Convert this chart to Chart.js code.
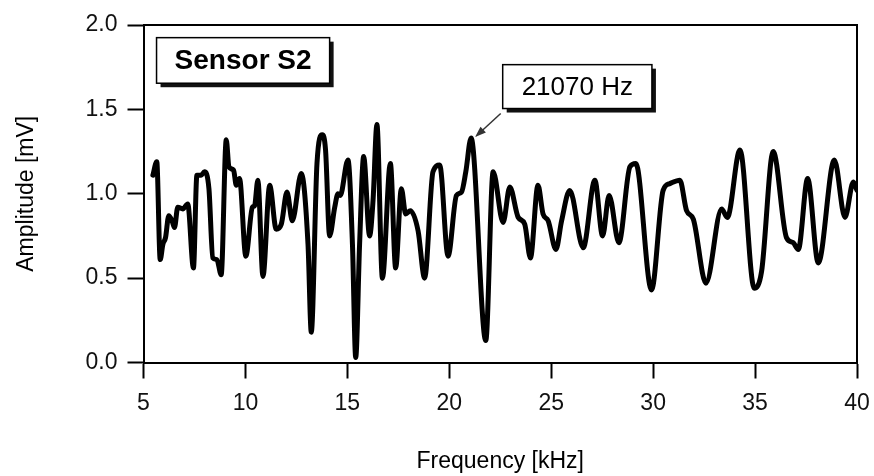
<!DOCTYPE html>
<html>
<head>
<meta charset="utf-8">
<script src="https://cdn.jsdelivr.net/npm/chart.js@4/dist/chart.umd.min.js"></script>
<style>
  html, body { margin: 0; padding: 0; background: #fff; }
  #wrap { width: 874px; height: 476px; position: relative; }
</style>
</head>
<body>
<div id="wrap"><canvas id="c"></canvas></div>
<script>
// Frequency axis (kHz) and measured amplitude (mV) of sensor S2
const frequency = [
  5.46, 5.65, 5.82, 5.95, 6.08, 6.24, 6.40, 6.52, 6.68, 6.93, 7.17, 7.45, 7.62, 7.83, 7.99,
  8.21, 8.40, 8.60, 8.81, 9.06, 9.19, 9.42, 9.55, 9.71, 10.02, 10.34, 10.45, 10.61, 10.86,
  11.19, 11.51, 11.76, 12.04, 12.30, 12.74, 13.07, 13.23, 13.51, 13.77, 13.93, 14.13, 14.38,
  14.54, 14.65, 15.03, 15.25, 15.41, 15.60, 15.80, 16.09, 16.26, 16.45, 16.72, 17.11, 17.37,
  17.65, 17.86, 18.09, 18.47, 18.79, 19.20, 19.53, 19.94, 20.35, 20.60, 20.81, 21.07, 21.79,
  22.15, 22.64, 22.97, 23.38, 23.70, 23.98, 24.35, 24.60, 24.85, 25.23, 25.51, 25.91, 26.57,
  27.14, 27.52, 27.84, 28.32, 28.86, 29.15, 29.92, 30.49, 30.82, 31.31, 31.64, 31.97, 32.59,
  33.36, 33.64, 34.26, 34.96, 35.32, 35.89, 36.54, 36.87, 37.12, 37.58, 38.10, 38.89, 39.41,
  39.82, 40.00
];
const amplitude = [
  1.11, 1.19, 0.61, 0.70, 0.74, 0.87, 0.84, 0.80, 0.92, 0.91, 0.94, 0.56, 1.11, 1.11, 1.13,
  1.03, 0.62, 0.61, 0.52, 1.32, 1.16, 1.14, 1.05, 1.09, 0.63, 0.92, 0.93, 1.08, 0.51,
  1.05, 0.79, 0.82, 1.01, 0.84, 1.12, 0.70, 0.18, 1.18, 1.35, 1.26, 0.75, 0.92,
  1.00, 0.99, 1.20, 0.70, 0.03, 0.70, 1.22, 0.75, 0.96, 1.41, 0.50, 1.18, 0.56,
  1.03, 0.88, 0.90, 0.78, 0.50, 1.13, 1.17, 0.63, 0.99, 1.01, 1.13, 1.33, 0.13,
  1.13, 0.83, 1.04, 0.86, 0.82, 0.62, 1.05, 0.88, 0.84, 0.67, 0.84, 1.02, 0.68,
  1.08, 0.75, 0.99, 0.71, 1.16, 1.18, 0.43, 1.02, 1.06, 1.08, 0.90, 0.85, 0.47,
  0.91, 0.86, 1.26, 0.44, 0.54, 1.25, 0.74, 0.71, 0.67, 1.09, 0.59, 1.20, 0.86,
  1.07, 1.02
];
const xTicks = [5, 10, 15, 20, 25, 30, 35, 40];
const yTicks = [0.0, 0.5, 1.0, 1.5, 2.0];

const sensorName = 'Sensor S2';
const peakFreqHz = 21070;
const peakAmp = 1.33;

const FONT = '"Liberation Sans", Arial, Helvetica, sans-serif';

// Frame on the top and right sides, plus the two labelled boxes
const decorations = {
  id: 'decorations',
  afterDraw(chart) {
    const { ctx, chartArea: a, scales: { x, y } } = chart;
    ctx.save();
    ctx.strokeStyle = '#000';
    ctx.lineWidth = 2;
    ctx.beginPath();
    ctx.moveTo(a.left, a.top);
    ctx.lineTo(a.right, a.top);
    ctx.lineTo(a.right, a.bottom);
    ctx.stroke();

    function box(x0, y0, x1, y1, text, font) {
      const l = x.getPixelForValue(x0), r = x.getPixelForValue(x1);
      const t = y.getPixelForValue(y0), b = y.getPixelForValue(y1);
      ctx.fillStyle = '#111';
      ctx.fillRect(l + 4, t + 4, r - l, b - t);
      ctx.fillStyle = '#fff';
      ctx.fillRect(l, t, r - l, b - t);
      ctx.strokeStyle = '#000';
      ctx.lineWidth = 1.5;
      ctx.strokeRect(l, t, r - l, b - t);
      ctx.fillStyle = '#000';
      ctx.font = font;
      ctx.textAlign = 'center';
      ctx.textBaseline = 'middle';
      ctx.fillText(text, (l + r) / 2, (t + b) / 2 + 1);
      return { l, r, t, b };
    }

    box(5.64, 1.925, 14.13, 1.655, sensorName, 'bold 28px ' + FONT);
    const pb = box(22.62, 1.765, 29.94, 1.505, peakFreqHz + ' Hz', '26px ' + FONT);

    // arrow from the box corner to the peak
    const tipX = x.getPixelForValue(peakFreqHz / 1000) + 4;
    const tipY = y.getPixelForValue(peakAmp) - 1;
    const sx = pb.l - 2, sy = pb.b + 5;
    const ang = Math.atan2(tipY - sy, tipX - sx);
    ctx.strokeStyle = '#333';
    ctx.fillStyle = '#333';
    ctx.lineWidth = 1.5;
    ctx.beginPath();
    ctx.moveTo(sx, sy);
    ctx.lineTo(tipX - 6 * Math.cos(ang), tipY - 6 * Math.sin(ang));
    ctx.stroke();
    ctx.beginPath();
    ctx.moveTo(tipX, tipY);
    ctx.lineTo(tipX - 11 * Math.cos(ang) + 4 * Math.sin(ang), tipY - 11 * Math.sin(ang) - 4 * Math.cos(ang));
    ctx.lineTo(tipX - 11 * Math.cos(ang) - 4 * Math.sin(ang), tipY - 11 * Math.sin(ang) + 4 * Math.cos(ang));
    ctx.closePath();
    ctx.fill();
    ctx.restore();
  }
};

const points = frequency.map((f, i) => ({ x: f, y: amplitude[i] }));

new Chart(document.getElementById('c'), {
  type: 'line',
  data: {
    datasets: [{
      data: points,
      borderColor: '#000',
      borderWidth: 5,
      pointRadius: 0,
      fill: false,
      cubicInterpolationMode: 'monotone',
      borderJoinStyle: 'round',
      borderCapStyle: 'round'
    }]
  },
  options: {
    responsive: true,
    maintainAspectRatio: false,
    animation: false,
    layout: { padding: { left: 0, right: 17, top: 25, bottom: 0 } },
    plugins: { legend: { display: false }, tooltip: { enabled: false } },
    scales: {
      x: {
        type: 'linear',
        min: 5, max: 40,
        afterBuildTicks(s) { s.ticks = xTicks.map(v => ({ value: v })); },
        afterFit(s) { s.height = 113.5; s.paddingLeft = 0; s.paddingRight = 0; },
        grid: { drawOnChartArea: false, drawTicks: true, tickLength: 16, tickColor: '#000', tickWidth: 2 },
        border: { display: true, color: '#000', width: 2 },
        ticks: { color: '#111', padding: 11, font: { family: FONT, size: 23 }, maxRotation: 0 },
        title: { display: true, text: 'Frequency [kHz]', color: '#000', font: { family: FONT, size: 23 }, padding: { top: 0, bottom: 1 } }
      },
      y: {
        type: 'linear',
        min: 0, max: 2,
        afterBuildTicks(s) { s.ticks = yTicks.map(v => ({ value: v })); },
        afterFit(s) { s.width = 143.5; s.paddingTop = 0; s.paddingBottom = 0; },
        grid: { drawOnChartArea: false, drawTicks: true, tickLength: 16, tickColor: '#000', tickWidth: 2 },
        border: { display: true, color: '#000', width: 2 },
        ticks: { color: '#111', padding: 10, font: { family: FONT, size: 23 }, callback: v => Number(v).toFixed(1) },
        title: { display: true, text: 'Amplitude [mV]', color: '#000', font: { family: FONT, size: 23 }, padding: { top: 13, bottom: 0 } }
      }
    }
  },
  plugins: [decorations]
});
</script>
</body>
</html>
